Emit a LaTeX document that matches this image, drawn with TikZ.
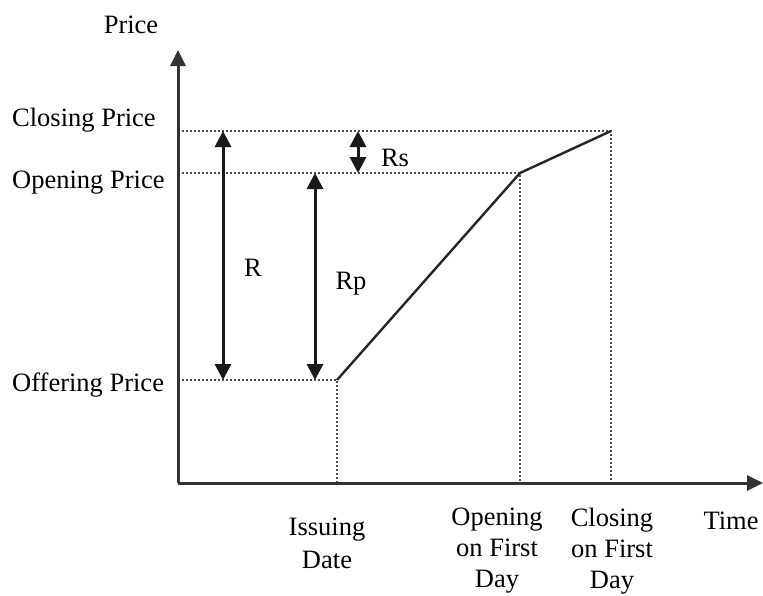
\documentclass[tikz,border=0pt]{standalone}
\usepackage{fontspec}
\setmainfont{Liberation Serif}
\usetikzlibrary{arrows.meta}
\begin{document}
\begin{tikzpicture}[x=1pt,y=-1pt,
  lbl/.style={font=\fontsize{26.5}{31}\selectfont, inner sep=0pt, align=center},
  axis/.style={line width=3pt, draw=black!80, -{Triangle[length=16pt,width=15pt]}},
  guide/.style={line width=1.7pt, draw=black!70, dash pattern=on 2.2pt off 1.8pt},
  curve/.style={line width=2.4pt, draw=black!85},
  span/.style={line width=3pt, draw=black!90, {Triangle[length=16pt,width=16pt]}-{Triangle[length=16pt,width=16pt]}}
]
\useasboundingbox (0,0) rectangle (763,595);
\coordinate (O) at (178,483);
\coordinate (ytip) at (178,50);
\coordinate (xtip) at (763,483);
\coordinate (off) at (337,380);
\coordinate (open) at (520,173);
\coordinate (close) at (611,131);
\coordinate (yclose) at (178,131);
\coordinate (yopen) at (178,173);
\coordinate (yoff) at (178,380);
\coordinate (xoff) at (337,483);
\coordinate (xopen) at (520,483);
\coordinate (xclose) at (611,483);
\coordinate (Rt) at (223,131); \coordinate (Rb) at (223,380);
\coordinate (Rpt) at (315,173); \coordinate (Rpb) at (315,380);
\coordinate (Rst) at (358,131); \coordinate (Rsb) at (358,173);

\draw[guide] (yclose) -- (close) -- (xclose);
\draw[guide] (yopen) -- (open) -- (xopen);
\draw[guide] (yoff) -- (off) -- (xoff);
\draw[curve] (off) -- (open) -- (close);
\draw[axis] (O) -- (ytip);
\draw[axis] (O) -- (xtip);
\draw[span] (Rt) -- (Rb);
\draw[span] (Rpt) -- (Rpb);
\draw[span] (Rst) -- (Rsb);

\node[lbl] (price) at (131,25) {Price};
\node[lbl, anchor=west] (lclose) at (12,120) {Closing Price};
\node[lbl, anchor=west] (lopen) at (12,183) {Opening Price};
\node[lbl, anchor=west] (loff) at (12,385) {Offering Price};
\node[lbl] (lR) at (253,268) {R};
\node[lbl] (lRp) at (351,284) {Rp};
\node[lbl] (lRs) at (395,158) {Rs};
\node[lbl, anchor=north, font=\fontsize{26.5}{32.5}\selectfont] (lissue) at (327,518) {Issuing\\Date};
\node[lbl, anchor=north] (lopenday) at (497,508) {Opening\\on First\\Day};
\node[lbl, anchor=north] (lcloseday) at (612,508) {Closing\\on First\\Day};
\node[lbl] (ltime) at (731,521) {Time};
\end{tikzpicture}
\end{document}
